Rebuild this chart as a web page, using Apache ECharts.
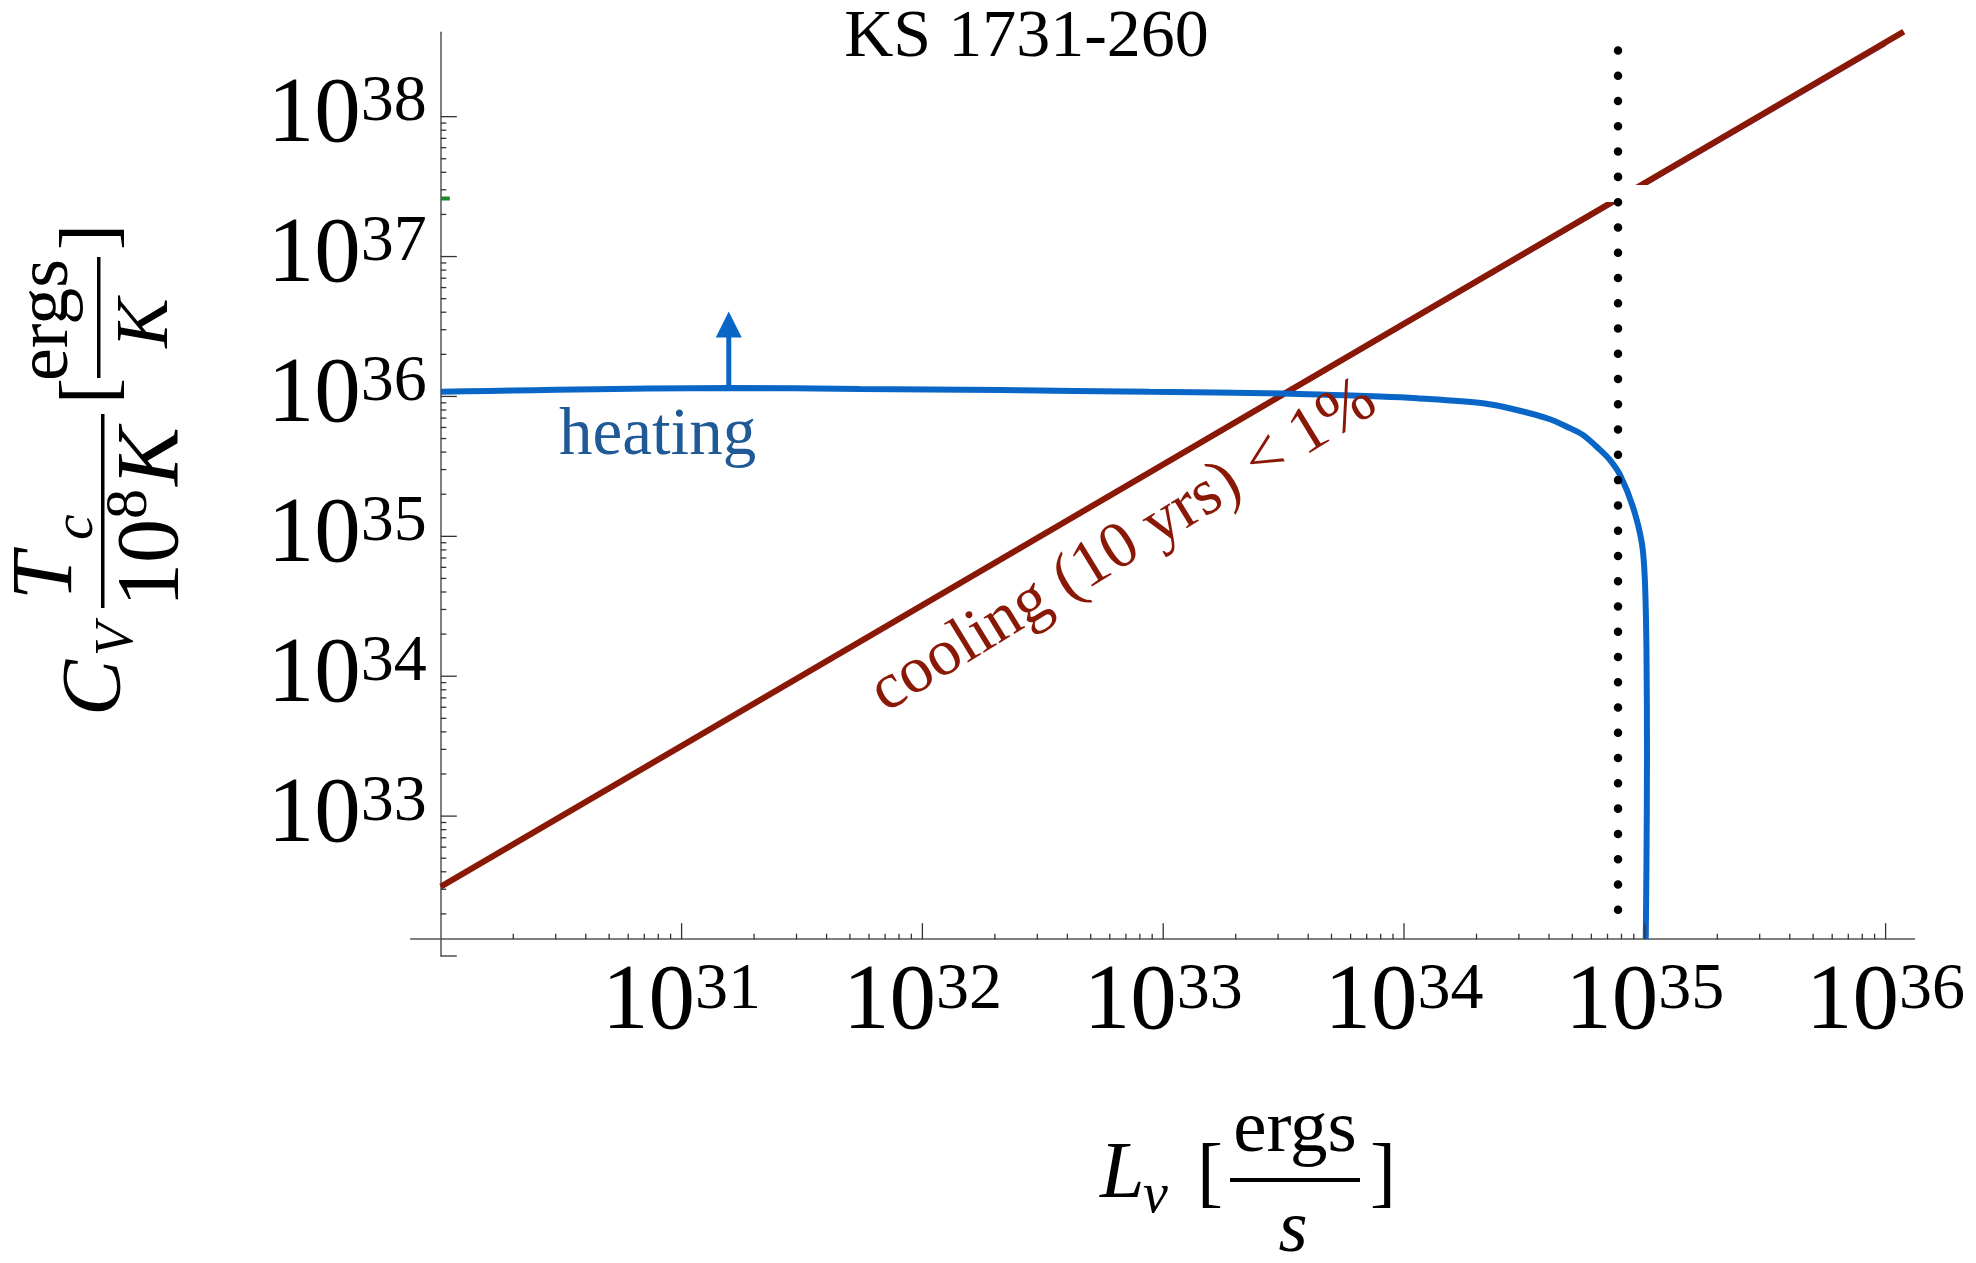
<!DOCTYPE html>
<html>
<head>
<meta charset="utf-8">
<script src="https://cdn.jsdelivr.net/npm/echarts@6/dist/echarts.min.js"></script>
<style>
  html, body { margin: 0; padding: 0; background: #fff; }
  #chart { width: 1976px; height: 1263px; }
</style>
</head>
<body>
<div id="chart"></div>
<script>
// heating curve (blue)
const heatingL = [1.0e30, 1.57e31, 5.5e31, 2.1e32, 8.8e32, 3.15e33, 7.96e33, 1.13e34, 2.13e34, 2.94e34,
  4.04e34, 4.75e34, 5.53e34, 6.52e34, 7.16e34, 7.89e34, 8.93e34, 9.72e34, 1.0e35, 1.016e35,
  1.021e35, 1.016e35, 1.009e35];
const heatingC = [1.08e36, 1.15e36, 1.13e36, 1.11e36, 1.08e36, 1.05e36, 9.98e35, 9.7e35, 8.93e35, 8.0e35,
  6.87e35, 6.07e35, 5.31e35, 4.15e35, 3.52e35, 2.75e35, 1.62e35, 8.97e34, 4.99e34, 1.54e34,
  2.65e33, 4.55e32, 1.32e32];

// cooling (10 yrs) < 1% line (red) and the thin purple one under it
const coolingL = [1e30, 1.19e36];
const coolingC = [3.13e32, 4.05e38];
const shadowL = [1e30, 1e36];
const shadowC = [3.13e32, 3.28e38];

// vertical dotted marker
const markerL = 7.74e34;
const markerC = [2.97e38, 1.43e32];

// arrow above the heating curve
const arrowL = 1.57e31;
const arrowC = [1.15e36, 4.04e36];

// axes
const xLabelExp = [31, 32, 33, 34, 35, 36];
const yLabelExp = [33, 34, 35, 36, 37, 38];
const xMajorExp = [31, 32, 33, 34, 35, 36];
const yMajorExp = [32, 33, 34, 35, 36, 37, 38];
const xMinorDecades = [30, 31, 32, 33, 34, 35];
const yMinorDecades = [32, 33, 34, 35, 36, 37];
const minorMult = [2, 3, 4, 5, 6, 7, 8, 9];

const X_LOG = [29.875, 36.12];
const Y_LOG = [32, 38.603];
const CROSS_L = 1e30;                // where the y axis sits
const CROSS_C = Math.pow(10, 32.12); // where the x axis sits

// piece that hides part of the red line, and the small green dash on the y axis
const gapBox = [6.3e34, 3.25e37, 1.2e35, 2.45e37];
const greenMark = [1e30, 2.6e37];

const BLUE = '#0a66c6';
const RED = '#8a1806';
const SERIF = '"Liberation Serif", "DejaVu Serif", serif';
const MID = 0.335;

const W = 1976, H = 1263;
const grid = { left: 410.7, right: 61.5, top: 32.3, bottom: 307 };
const gridW = W - grid.left - grid.right;
const gridH = H - grid.top - grid.bottom;
const xAxisOffset = -(Math.log10(CROSS_C) - Y_LOG[0]) / (Y_LOG[1] - Y_LOG[0]) * gridH;
const yAxisOffset = -(Math.log10(CROSS_L) - X_LOG[0]) / (X_LOG[1] - X_LOG[0]) * gridW;

function expLabel(list) {
    return function (v) {
        const e = Math.round(Math.log10(v));
        if (Math.abs(Math.log10(v) - e) > 1e-6 || list.indexOf(e) < 0) return '';
        return '{b|10}{s|' + e + '}';
    };
}
const rich = {
    b: { fontFamily: SERIF, fontSize: 93, lineHeight: 93, color: '#000', verticalAlign: 'bottom' },
    s: { fontFamily: SERIF, fontSize: 66, lineHeight: 47, color: '#000', verticalAlign: 'top' }
};

const xTicks = [];
xMajorExp.forEach(e => xTicks.push([Math.pow(10, e), CROSS_C, 1]));
xMinorDecades.forEach(d => minorMult.forEach(m => xTicks.push([m * Math.pow(10, d), CROSS_C, 0])));
const yTicks = [];
yMajorExp.forEach(e => yTicks.push([CROSS_L, Math.pow(10, e), 1]));
yMinorDecades.forEach(d => minorMult.forEach(m => yTicks.push([CROSS_L, m * Math.pow(10, d), 0])));

function tickRender(dir) {
    return function (params, api) {
        const p = api.coord([api.value(0), api.value(1)]);
        const major = api.value(2) === 1;
        const len = major ? 16 : 5.5;
        const shape = dir === 'x'
            ? { x1: p[0], y1: p[1], x2: p[0], y2: p[1] - len }
            : { x1: p[0], y1: p[1], x2: p[0] + len, y2: p[1] };
        return { type: 'line', shape: shape, style: { stroke: '#333', lineWidth: 1.3 } };
    };
}

const chart = echarts.init(document.getElementById('chart'));
const option = {
    animation: false,
    backgroundColor: '#fff',
    grid: grid,
    xAxis: {
        type: 'log', logBase: 10,
        min: Math.pow(10, X_LOG[0]), max: Math.pow(10, X_LOG[1]),
        offset: xAxisOffset,
        splitLine: { show: false },
        axisTick: { show: false },
        axisLine: { show: true, lineStyle: { color: '#555', width: 1.5 } },
        axisLabel: { interval: 0, margin: 18, formatter: expLabel(xLabelExp), rich: rich,
            showMinLabel: true, showMaxLabel: true }
    },
    yAxis: {
        type: 'log', logBase: 10,
        min: Math.pow(10, Y_LOG[0]), max: Math.pow(10, Y_LOG[1]),
        offset: yAxisOffset,
        splitLine: { show: false },
        axisTick: { show: false },
        axisLine: { show: true, lineStyle: { color: '#555', width: 1.5 } },
        axisLabel: { interval: 0, margin: 14, formatter: expLabel(yLabelExp), rich: rich,
            showMinLabel: true, showMaxLabel: true }
    },
    series: [
        {
            name: 'shadow', type: 'line', z: 2, showSymbol: false, silent: true,
            data: shadowL.map((x, i) => [x, shadowC[i]]),
            lineStyle: { color: '#7b3a92', width: 3 }
        },
        {
            name: 'cooling', type: 'line', z: 2, showSymbol: false,
            data: coolingL.map((x, i) => [x, coolingC[i]]),
            lineStyle: { color: RED, width: 6 }
        },
        {
            name: 'heating', type: 'line', z: 3, showSymbol: false, smooth: 0.3,
            data: heatingL.map((x, i) => [x, heatingC[i]]),
            lineStyle: { color: BLUE, width: 6 }
        },
        {
            name: 'arrow', type: 'custom', z: 3,
            data: [[arrowL, arrowC[0], arrowC[1]]],
            renderItem: function (params, api) {
                const base = api.coord([api.value(0), api.value(1)]);
                const tip = api.coord([api.value(0), api.value(2)]);
                const head = 26, half = 13;
                return {
                    type: 'group', children: [
                        { type: 'line', shape: { x1: base[0], y1: base[1], x2: tip[0], y2: tip[1] + head - 1 },
                          style: { stroke: BLUE, lineWidth: 5 } },
                        { type: 'polygon', shape: { points: [[tip[0], tip[1]], [tip[0] - half, tip[1] + head], [tip[0] + half, tip[1] + head]] },
                          style: { fill: BLUE } }
                    ]
                };
            }
        },
        {
            name: 'marker', type: 'line', z: 6, showSymbol: false,
            data: markerC.map(c => [markerL, c]),
            lineStyle: { color: '#000', width: 8.5, type: [0.01, 25.26], cap: 'round' }
        },
        { name: 'xticks', type: 'custom', z: 4, silent: true, data: xTicks, renderItem: tickRender('x') },
        { name: 'yticks', type: 'custom', z: 4, silent: true, data: yTicks, renderItem: tickRender('y') }
    ]
};
chart.setOption(option);

function txt(str, x, base, size, o) {
    o = o || {};
    return {
        type: 'text', x: x, y: base - MID * size, z: 10, silent: true,
        style: {
            text: str, fill: o.color || '#000',
            font: (o.italic ? 'italic ' : '') + size + 'px ' + SERIF,
            align: o.align || 'left', verticalAlign: 'middle'
        }
    };
}
// text in the frame turned 90 degrees: read from bottom (screen y) upward, baseline at screen x
function vtxt(str, readY, baseX, size, o) {
    o = o || {};
    return {
        type: 'text', x: -readY, y: baseX - MID * size, silent: true,
        style: {
            text: str, fill: o.color || '#000',
            font: (o.italic ? 'italic ' : '') + size + 'px ' + SERIF,
            align: o.align || 'left', verticalAlign: 'middle'
        }
    };
}

const g0 = chart.convertToPixel({ gridIndex: 0 }, [gapBox[0], gapBox[1]]);
const g1 = chart.convertToPixel({ gridIndex: 0 }, [gapBox[2], gapBox[3]]);
const gm = chart.convertToPixel({ gridIndex: 0 }, greenMark);
const coolAngle = 31.5 * Math.PI / 180;
const coolSize = 66;
const coolX = 888 - MID * coolSize * Math.sin(coolAngle);
const coolY = 717 - MID * coolSize * Math.cos(coolAngle);

chart.setOption({
    graphic: [
        { type: 'rect', z: 5, silent: true,
          shape: { x: g0[0], y: g0[1], width: g1[0] - g0[0], height: g1[1] - g0[1] },
          style: { fill: '#fff' } },
        { type: 'rect', z: 5, silent: true,
          shape: { x: gm[0], y: gm[1] - 2, width: 9, height: 4 }, style: { fill: '#1a8a2a' } },
        txt('KS 1731-260', 1026.5, 61, 68, { align: 'center' }),
        txt('heating', 559, 459, 67, { color: '#1f5a96' }),
        {
            type: 'text', x: coolX, y: coolY, rotation: coolAngle, z: 10, silent: true,
            style: { text: 'cooling (10 yrs) < 1%', fill: RED, font: coolSize + 'px ' + SERIF,
                     align: 'left', verticalAlign: 'middle' }
        },
        // x axis title: L_nu [ergs / s]
        txt('L', 1100, 1203, 80, { italic: true }),
        txt('ν', 1143, 1216, 56, { italic: true }),
        txt('[', 1197, 1204, 78),
        txt('ergs', 1295, 1156, 75, { align: 'center' }),
        { type: 'rect', z: 10, silent: true, shape: { x: 1230, y: 1178, width: 130, height: 4 }, style: { fill: '#000' } },
        txt('s', 1293, 1256, 75, { italic: true, align: 'center' }),
        txt(']', 1370, 1204, 78),
        // y axis title, turned
        {
            type: 'group', x: 0, y: 0, rotation: Math.PI / 2, z: 10, silent: true,
            children: [
                vtxt('C', 716, 126, 84, { italic: true }),
                vtxt('V', 656, 136, 54, { italic: true }),
                vtxt('T', 600, 77, 86, { italic: true }),
                vtxt('c', 540, 96, 58, { italic: true }),
                vtxt('10', 607, 183, 88),
                vtxt('8', 519, 150, 60),
                vtxt('K', 486, 183, 88, { italic: true }),
                vtxt('[', 404, 120, 78),
                vtxt('ergs', 320, 72, 74, { align: 'center' }),
                vtxt('K', 323, 172, 74, { italic: true, align: 'center' }),
                vtxt(']', 250, 120, 78)
            ]
        },
        { type: 'rect', z: 10, silent: true, shape: { x: 101, y: 414, width: 3.5, height: 194 }, style: { fill: '#000' } },
        { type: 'rect', z: 10, silent: true, shape: { x: 97, y: 257, width: 3.5, height: 121 }, style: { fill: '#000' } }
    ]
});
</script>
</body>
</html>
